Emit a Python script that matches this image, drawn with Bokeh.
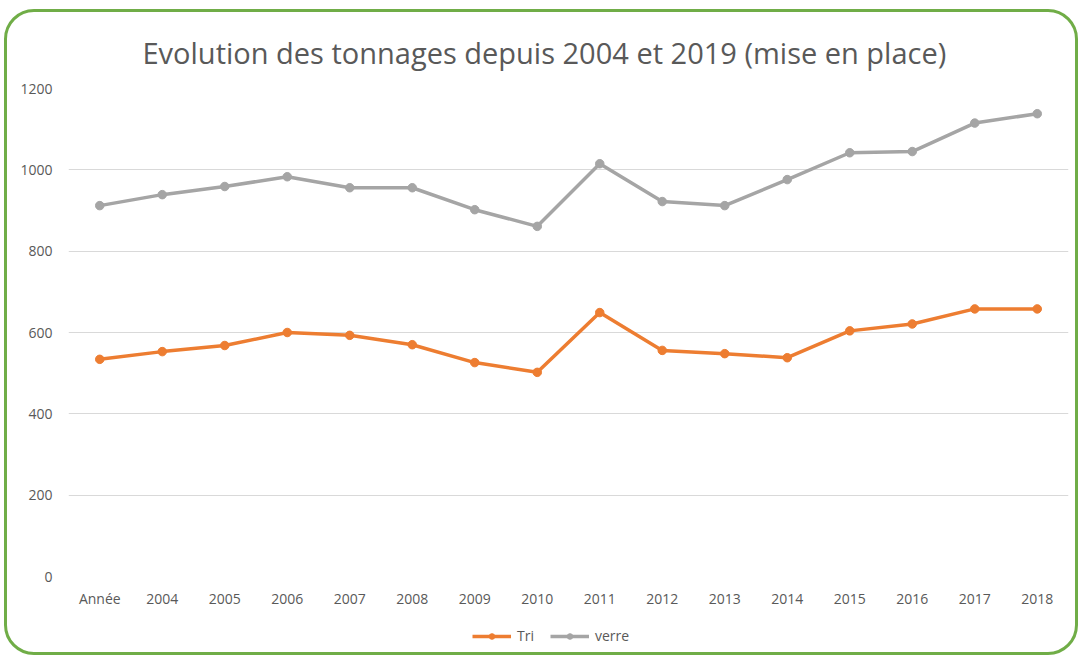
from bokeh.plotting import figure
from bokeh.layouts import column
from bokeh.models import FactorRange, Range1d, Legend, LegendItem, FixedTicker
from bokeh.embed import file_html
from bokeh.resources import INLINE

categories = ["Année", "2004", "2005", "2006", "2007", "2008", "2009", "2010",
              "2011", "2012", "2013", "2014", "2015", "2016", "2017", "2018"]
tri = [534, 553, 568, 600, 593, 570, 526, 502, 649, 556, 548, 538, 604, 621, 658, 658]
verre = [912, 939, 959, 983, 956, 956, 902, 861, 1015, 922, 912, 976, 1042, 1045, 1115, 1138]
y_ticks = [0, 200, 400, 600, 800, 1000, 1200]
series_names = ["Tri", "verre"]

FONT = "Open Sans"
TXT = "#595959"
ORANGE = "#ED7D31"
GRAY = "#A5A5A5"

p = figure(width=1068, height=605, output_backend="svg", toolbar_location=None,
           x_range=FactorRange(factors=categories, range_padding=0),
           y_range=Range1d(0, 1200),
           min_border_left=61, min_border_right=7, min_border_top=76, min_border_bottom=41)

p.title.text = "Evolution des tonnages depuis 2004 et 2019 (mise en place)"
p.title.align = "left"
p.title.text_font = FONT
p.title.text_font_size = "29px"
p.title.text_font_style = "normal"
p.title.text_color = TXT
p.title.offset = 74
p.title.standoff = 34

p.outline_line_color = None
p.background_fill_color = "white"
p.border_fill_color = None

for ax in (p.xaxis[0], p.yaxis[0]):
    ax.axis_line_color = None
    ax.major_tick_line_color = None
    ax.minor_tick_line_color = None
    ax.major_label_text_font = FONT
    ax.major_label_text_font_size = "14px"
    ax.major_label_text_color = TXT

p.yaxis[0].ticker = FixedTicker(ticks=y_ticks)
p.yaxis[0].major_label_standoff = 10
p.xaxis[0].major_label_standoff = 6

p.xgrid.grid_line_color = None
p.ygrid.grid_line_color = "#d9d9d9"
p.ygrid.grid_line_width = 1

p.line(categories, tri, line_color=ORANGE, line_width=3.5)
p.scatter(categories, tri, size=8.5, fill_color=ORANGE, line_color=ORANGE)
p.line(categories, verre, line_color=GRAY, line_width=3.5)
p.scatter(categories, verre, size=8.5, fill_color=GRAY, line_color=GRAY)

# legend strip below the chart (series drawn out of its view, only used for legend glyphs)
p2 = figure(width=1068, height=35, output_backend="svg", toolbar_location=None,
            x_range=Range1d(0, 1), y_range=Range1d(0, 1),
            x_axis_type=None, y_axis_type=None, min_border=0)
p2.outline_line_color = None
p2.border_fill_color = None
p2.background_fill_color = None
p2.xgrid.visible = False
p2.ygrid.visible = False

items = []
idx = list(range(len(categories)))
for name, vals, col in zip(series_names, [tri, verre], [ORANGE, GRAY]):
    lr = p2.line(idx, vals, line_color=col, line_width=3.5)
    sr = p2.scatter(idx, vals, size=10, fill_color=col, line_color=col)
    items.append(LegendItem(label=name, renderers=[lr, sr]))

legend = Legend(items=items, orientation="horizontal", location=(404, 7),
                label_text_font=FONT, label_text_font_size="14px", label_text_color=TXT,
                glyph_width=39, glyph_height=14, spacing=13, label_standoff=6,
                border_line_color=None, background_fill_alpha=0, margin=0, padding=0)
p2.add_layout(legend, "center")

layout = column(p, p2, spacing=0, width=1074, height=646)
layout.styles = {"margin-left": "4px", "margin-top": "9px",
                 "border": "3px solid #70AD47", "border-radius": "30px",
                 "background-color": "white"}

open("out.html", "w").write(file_html(layout, INLINE))
